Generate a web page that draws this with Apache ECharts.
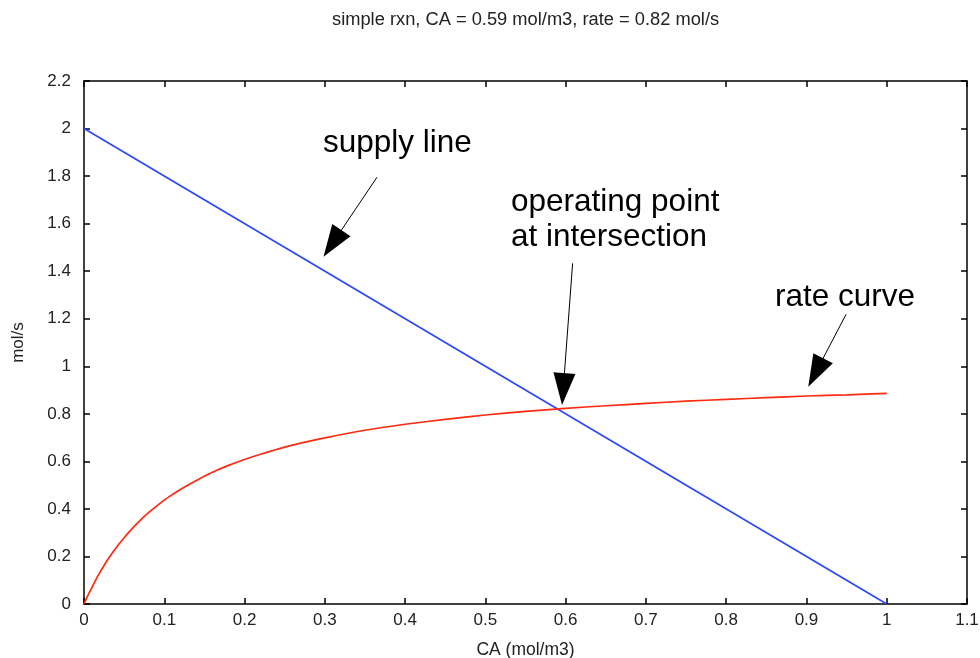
<!DOCTYPE html>
<html>
<head>
<meta charset="utf-8">
<script src="https://cdn.jsdelivr.net/npm/echarts@6/dist/echarts.min.js"></script>
<style>html,body{margin:0;padding:0;background:#fff}#c{width:980px;height:658px}</style>
</head>
<body>
<div id="c"></div>
<script>
// ---- data ----
const titleText = 'simple rxn, CA = 0.59 mol/m3, rate = 0.82 mol/s';
const xName = 'CA (mol/m3)';
const yName = 'mol/s';
const xTickLabels = ['0','0.1','0.2','0.3','0.4','0.5','0.6','0.7','0.8','0.9','1','1.1'];
const yTickLabels = ['0','0.2','0.4','0.6','0.8','1','1.2','1.4','1.6','1.8','2','2.2'];
const supplyX = [0, 1];
const supplyY = [2, 0];
const rateX = [0, 0.005, 0.01, 0.015, 0.02, 0.025, 0.03, 0.04, 0.05, 0.06, 0.07, 0.08, 0.09, 0.1, 0.11, 0.12, 0.14, 0.16, 0.18, 0.2, 0.22, 0.25, 0.27, 0.3, 0.35, 0.4, 0.45, 0.5, 0.55, 0.6, 0.65, 0.7, 0.75, 0.8, 0.85, 0.9, 0.95, 1.0];
const rateY = [0, 0.037, 0.07, 0.104, 0.134, 0.162, 0.189, 0.237, 0.279, 0.317, 0.352, 0.383, 0.411, 0.437, 0.46, 0.482, 0.52, 0.554, 0.583, 0.608, 0.63, 0.66, 0.677, 0.699, 0.731, 0.756, 0.777, 0.795, 0.81, 0.823, 0.834, 0.844, 0.853, 0.861, 0.868, 0.875, 0.88, 0.886];
// annotation arrows: [tail, head-centre] in data units
const arrows = [
  [[0.365, 1.795], [0.3095, 1.517]],
  [[0.6087, 1.433], [0.597, 0.904]],
  [[0.9494, 1.2187], [0.9115, 0.974]]
];
const notes = ['supply line', 'operating point', 'at intersection', 'rate curve'];

const F = 'Liberation Sans, Arial, Helvetica, sans-serif';
const chart = echarts.init(document.getElementById('c'), null, {renderer: 'canvas'});

function lbl(arr, step) {
  return v => { const i = Math.round(v / step); return arr[i] !== undefined ? arr[i] : ''; };
}
function axisCommon() {
  return {
    type: 'value',
    axisLine: {show: true, onZero: false, lineStyle: {color: '#000', width: 1.5}},
    axisTick: {show: true, inside: true, length: 6, lineStyle: {color: '#000', width: 1.5}},
    splitLine: {show: false}
  };
}

chart.setOption({
  animation: false,
  backgroundColor: '#fff',
  title: {
    text: titleText, left: 332, top: 11, padding: 0,
    textStyle: {fontSize: 18.3, fontWeight: 'normal', color: '#222', fontFamily: F}
  },
  grid: {left: 84, right: 13, top: 81, bottom: 54, containLabel: false, outerBoundsMode: 'none'},
  xAxis: [
    Object.assign(axisCommon(), {
      min: 0, max: 1.1, interval: 0.1, position: 'bottom',
      name: xName, nameLocation: 'middle', nameGap: 37,
      nameTextStyle: {fontSize: 17.5, color: '#222', fontFamily: F},
      axisLabel: {fontSize: 17, color: '#222', fontFamily: F, margin: 8, formatter: lbl(xTickLabels, 0.1)}
    }),
    Object.assign(axisCommon(), {
      min: 0, max: 1.1, interval: 0.1, position: 'top', axisLabel: {show: false}
    })
  ],
  yAxis: [
    Object.assign(axisCommon(), {
      min: 0, max: 2.2, interval: 0.2, position: 'left',
      name: yName, nameLocation: 'middle', nameGap: 57,
      nameTextStyle: {fontSize: 17, color: '#222', fontFamily: F},
      axisLabel: {fontSize: 17, color: '#222', fontFamily: F, margin: 13, formatter: lbl(yTickLabels, 0.2)}
    }),
    Object.assign(axisCommon(), {
      min: 0, max: 2.2, interval: 0.2, position: 'right', axisLabel: {show: false}
    })
  ],
  series: [
    {
      name: 'supply line', type: 'line', showSymbol: false, symbol: 'none',
      xAxisIndex: 0, yAxisIndex: 0,
      data: supplyX.map((x, i) => [x, supplyY[i]]),
      lineStyle: {color: '#2a46ff', width: 1.6},
      markLine: {
        silent: true, animation: false,
        symbol: ['none', 'triangle'], symbolSize: [22, 32],
        label: {show: false},
        lineStyle: {color: '#000', width: 1, type: 'solid'},
        itemStyle: {color: '#000'},
        emphasis: {disabled: true},
        data: arrows.map(a => [{coord: a[0]}, {coord: a[1]}])
      }
    },
    {
      name: 'rate curve', type: 'line', showSymbol: false, symbol: 'none',
      xAxisIndex: 0, yAxisIndex: 0, smooth: 0.2,
      data: rateX.map((x, i) => [x, rateY[i]]),
      lineStyle: {color: '#ff2a10', width: 1.7}
    }
  ],
  graphic: [
    {type: 'text', x: 323, y: 143, style: {text: notes[0], font: '31.5px ' + F, fill: '#000', verticalAlign: 'middle'}},
    {type: 'text', x: 511, y: 202, style: {text: notes[1], font: '31.5px ' + F, fill: '#000', verticalAlign: 'middle'}},
    {type: 'text', x: 511, y: 237.5, style: {text: notes[2], font: '31.5px ' + F, fill: '#000', verticalAlign: 'middle'}},
    {type: 'text', x: 775, y: 297, style: {text: notes[3], font: '31.5px ' + F, fill: '#000', verticalAlign: 'middle'}}
  ]
});
</script>
</body>
</html>
